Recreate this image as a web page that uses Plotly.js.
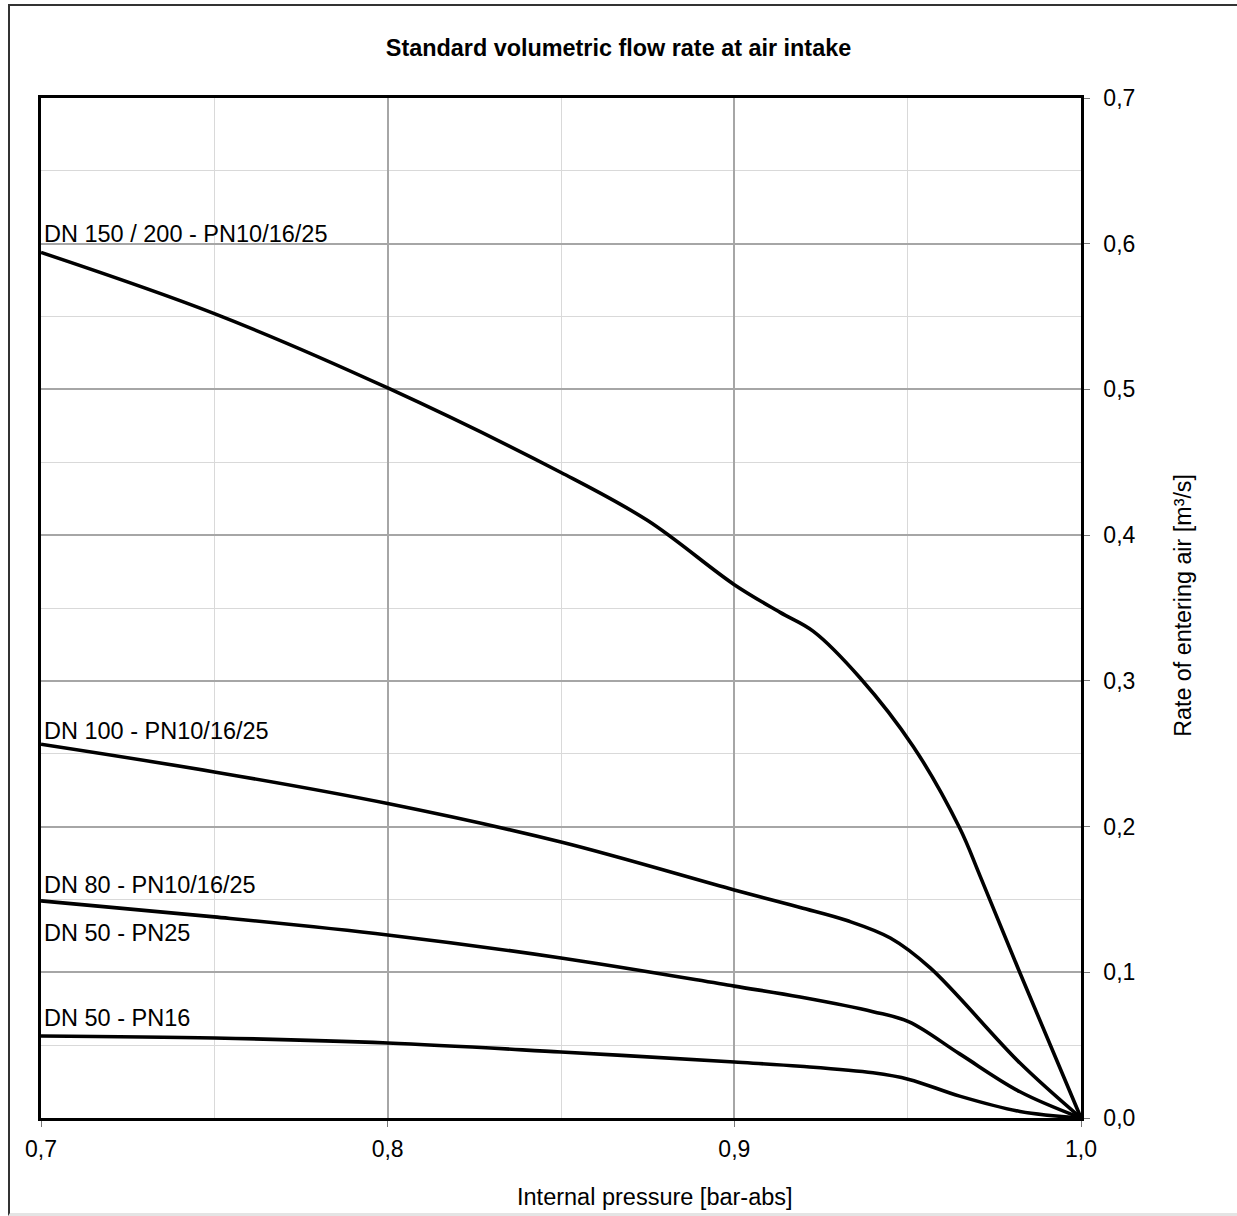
<!DOCTYPE html>
<html>
<head>
<meta charset="utf-8">
<script src="https://cdn.plot.ly/plotly-3.0.1.min.js"></script>
<style>
  html, body { margin: 0; padding: 0; background: #ffffff; }
  #wrap { position: relative; width: 1237px; height: 1216px; overflow: hidden; }
  #frame { position: absolute; left: 8px; top: 4px; width: 1240px; height: 1207px;
           border-left: 2px solid #333; border-top: 2px solid #333; border-bottom: 3px solid #e4e4e4; }
  #chart { position: absolute; left: 0; top: 0; width: 1237px; height: 1216px; }
</style>
</head>
<body>
<div id="wrap">
  <div id="frame"></div>
  <div id="chart"></div>
</div>
<script>
// ---- data ----
const seriesNames = [
  "DN 150 / 200 - PN10/16/25",
  "DN 100 - PN10/16/25",
  "DN 80 - PN10/16/25",
  "DN 50 - PN25",
  "DN 50 - PN16"
];

// internal pressure [bar-abs] -> rate of entering air [m³/s]
const xDN150 = [0.70, 0.75, 0.80, 0.85, 0.875, 0.90, 0.9132, 0.9228, 0.9363, 0.9516, 0.965, 0.9709, 0.9824, 1.00];
const yDN150 = [0.594, 0.552, 0.501, 0.443, 0.410, 0.366, 0.347, 0.334, 0.302, 0.255, 0.199, 0.166, 0.0995, 0.0];

const xDN100 = [0.70, 0.75, 0.80, 0.85, 0.90, 0.919, 0.9325, 0.945, 0.9565, 0.9824, 1.00];
const yDN100 = [0.2565, 0.2375, 0.2158, 0.1894, 0.1565, 0.1445, 0.1355, 0.1235, 0.103, 0.0377, 0.0];

// DN 80 - PN10/16/25 and DN 50 - PN25 share one curve
const xDN80 = [0.70, 0.75, 0.80, 0.85, 0.90, 0.919, 0.94, 0.9504, 0.965, 0.9824, 1.00];
const yDN80 = [0.149, 0.138, 0.1256, 0.1098, 0.0905, 0.0830, 0.0730, 0.0660, 0.0440, 0.0180, 0.0];

const xDN50PN16 = [0.70, 0.75, 0.80, 0.85, 0.90, 0.919, 0.94, 0.9504, 0.965, 0.9824, 1.00];
const yDN50PN16 = [0.0563, 0.0549, 0.0515, 0.0453, 0.0384, 0.0355, 0.0310, 0.0265, 0.0150, 0.0045, 0.0];

// label positions (y of text centre) at the left edge x = 0.7
const labelX = 0.70;
const labelY = [0.607, 0.2656, 0.160, 0.127, 0.0686];

const xTickVals = [0.7, 0.8, 0.9, 1.0];
const yTickVals = [0.0, 0.1, 0.2, 0.3, 0.4, 0.5, 0.6, 0.7];

const titleText = "Standard volumetric flow rate at air intake";
const xTitle = "Internal pressure [bar-abs]";
const yTitle = "Rate of entering air [m³/s]";

// ---- chart ----
const FONT = "Liberation Sans, Arial, Helvetica, sans-serif";
const lineStyle = { color: "#000000", width: 3.6, shape: "spline", smoothing: 1 };

const traces = [
  { x: xDN150, y: yDN150, name: seriesNames[0] },
  { x: xDN100, y: yDN100, name: seriesNames[1] },
  { x: xDN80, y: yDN80, name: seriesNames[2] + " / " + seriesNames[3] },
  { x: xDN50PN16, y: yDN50PN16, name: seriesNames[4] }
].map(t => Object.assign(t, { type: "scatter", mode: "lines", line: lineStyle, hoverinfo: "x+y+name" }));

const annotations = seriesNames.map((name, i) => ({
  x: labelX, y: labelY[i], xref: "x", yref: "y",
  text: name, showarrow: false, xanchor: "left", yanchor: "middle", xshift: 1,
  font: { family: FONT, size: 23.5, color: "#000000" }
}));

// axis titles placed as in the reference
annotations.push({
  x: 0.590, y: -0.0775, xref: "paper", yref: "paper",
  text: xTitle, showarrow: false, xanchor: "center", yanchor: "middle",
  font: { family: FONT, size: 23.5, color: "#000000" }
});
annotations.push({
  x: 1.098, y: 0.503, xref: "paper", yref: "paper", textangle: -90,
  text: yTitle, showarrow: false, xanchor: "center", yanchor: "middle",
  font: { family: FONT, size: 23.3, color: "#000000" }
});

const layout = {
  width: 1237, height: 1216,
  margin: { l: 41, r: 156, t: 98, b: 98 },
  paper_bgcolor: "rgba(0,0,0,0)",
  plot_bgcolor: "#ffffff",
  showlegend: false,
  separators: ", ",
  font: { family: FONT, size: 23, color: "#000000" },
  title: {
    text: "<b>" + titleText + "</b>",
    font: { family: FONT, size: 23.4, color: "#000000" },
    x: 0.5, xref: "container", xanchor: "center",
    y: 1 - 48 / 1216, yref: "container", yanchor: "middle"
  },
  xaxis: {
    range: [0.7, 1.0],
    tickvals: xTickVals, tickformat: ".1f",
    ticks: "outside", ticklen: 6, tickcolor: "#777", tickwidth: 1,
    ticklabelstandoff: 3,
    showline: true, mirror: true, linecolor: "#000000", linewidth: 2.5,
    showgrid: true, gridcolor: "#a6a6a6", gridwidth: 2,
    minor: { dtick: 0.05, tick0: 0.7, showgrid: true, gridcolor: "#d9d9d9", gridwidth: 1.3, ticks: "" },
    zeroline: false,
    tickfont: { family: FONT, size: 23, color: "#000000" }
  },
  yaxis: {
    range: [0.0, 0.7], side: "right",
    tickvals: yTickVals, tickformat: ".1f",
    ticks: "outside", ticklen: 6, tickcolor: "#777", tickwidth: 1,
    ticklabelstandoff: 9,
    showline: true, mirror: true, linecolor: "#000000", linewidth: 2.5,
    showgrid: true, gridcolor: "#a6a6a6", gridwidth: 2,
    minor: { dtick: 0.05, tick0: 0, showgrid: true, gridcolor: "#d9d9d9", gridwidth: 1.3, ticks: "" },
    zeroline: false,
    tickfont: { family: FONT, size: 23, color: "#000000" }
  },
  annotations: annotations
};

Plotly.newPlot("chart", traces, layout, { displayModeBar: false, responsive: false });
</script>
</body>
</html>
